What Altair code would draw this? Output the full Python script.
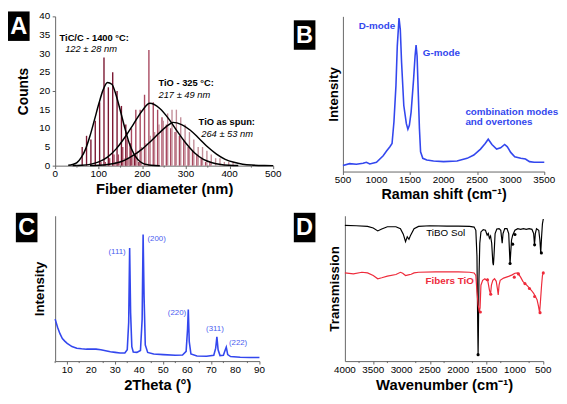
import altair as alt
import pandas as pd

FONT = "Liberation Sans"
BLUE = "#3347ee"
LBLUE = "#4a5cf0"
RED = "#ee2b3b"
AXC = "#666"

# ---------------- Panel A : fiber diameter histograms ----------------
tic_x = [62, 72, 82, 92, 102, 112, 122, 132, 142, 152, 162, 172, 182, 192]
tic_n = [5, 8, 7, 12, 17, 29, 21, 25, 20, 16, 11, 6, 3, 1]
t325_x = [105, 115, 125, 135, 145, 155, 165, 175, 185, 195, 205, 215, 225,
          235, 245, 255, 265, 275, 285, 295, 305, 315, 325, 335, 345, 355]
t325_n = [1, 1, 2, 3, 3, 5, 7, 10, 15, 15, 19, 31, 17,
          15, 13, 11, 10, 9, 8, 7, 5, 4, 3, 2, 1, 1]
spun_x = [138, 148, 158, 168, 178, 188, 198, 208, 218, 228, 238, 248, 258, 268,
          278, 288, 298, 308, 318, 328, 338, 348, 358, 368, 378, 388, 398, 408]
spun_n = [1, 1, 2, 2, 3, 4, 5, 6, 8, 9, 11, 12, 14, 15,
          15, 13, 11, 9, 7, 5, 5, 4, 3, 2, 2, 1, 1, 1]
series_names = ["TiC/C", "TiO 325", "TiO spun"]
series_colors = ["#7a1630", "#a8485f", "#c38e99"]

fit1_x = [30, 40, 50, 60, 70, 80, 90, 100, 110, 120, 130, 140, 150, 160, 170, 180, 190, 200, 210, 220, 240]
fit1_y = [0.1, 0.3, 0.8, 2.2, 4.5, 8, 12.2, 16.5, 20.3, 22.3, 21.8, 18.8, 14.5, 10, 6, 3.3, 1.6, 0.7, 0.3, 0.1, 0]
fit2_x = [40, 60, 80, 100, 120, 140, 160, 180, 200, 217, 240, 260, 280, 300, 320, 340, 360, 380, 400, 420]
fit2_y = [0.02, 0.1, 0.35, 1.0, 2.3, 4.5, 7.6, 11.2, 14.8, 16.7, 15.3, 12.6, 9.2, 6.0, 3.4, 1.7, 0.8, 0.3, 0.1, 0.03]
fit3_x = [80, 100, 120, 140, 160, 180, 200, 220, 240, 260, 270, 290, 310, 330, 350, 370, 390, 410, 430, 450, 480, 500]
fit3_y = [0.03, 0.1, 0.3, 0.7, 1.5, 2.8, 4.5, 6.6, 8.9, 10.9, 11.6, 11.0, 9.5, 7.3, 5.0, 3.1, 1.7, 0.9, 0.4, 0.15, 0.03, 0.01]

a_text = ["TiC/C - 1400 °C:", "122 ± 28 nm", "TiO - 325 °C:", "217 ± 49 nm", "TiO as spun:", "264 ± 53 nm"]
a_text_x = [10, 23, 237, 237, 329, 335]
a_text_y = [34.3, 31.2, 22.2, 19.0, 11.7, 8.6]
a_text_weight = ["bold", "normal", "bold", "normal", "bold", "normal"]
a_major = [0, 100, 200, 300, 400, 500]
a_minor = [50, 150, 250, 350, 450]
a_yticks = [0, 5, 10, 15, 20, 25, 30, 35, 40]

# ---------------- Panel B : Raman ----------------
raman_x = [500, 600, 700, 800, 850, 900, 1000, 1100, 1150, 1200, 1232, 1260, 1290, 1310, 1336, 1355,
           1374, 1407, 1445, 1468, 1490, 1516, 1553, 1575, 1590, 1605, 1624, 1640, 1657, 1690, 1750,
           1850, 2000, 2200, 2350, 2450, 2550, 2620, 2665, 2720, 2790, 2850, 2910, 2950, 3000, 3060,
           3150, 3220, 3280, 3350, 3500]
raman_y = [18, 24, 22, 25, 28, 23, 28, 48, 62, 75, 85, 150, 260, 380, 465, 430,
           330, 200, 145, 128, 140, 180, 280, 350, 383, 350, 230, 130, 60, 40, 35,
           32, 30, 32, 40, 50, 68, 85, 98, 82, 68, 72, 82, 75, 58, 45,
           40, 38, 30, 28, 28]
b_text = ["D-mode", "G-mode", "combination modes", "and overtones"]
b_text_x = [736, 1690, 2325, 2325]
b_text_y = [440, 358, 180, 150]
b_major = [500, 1000, 1500, 2000, 2500, 3000, 3500]

# ---------------- Panel C : XRD ----------------
xrd_x = [5, 6, 7, 8, 9, 10, 12, 14, 16, 18, 20, 22, 24, 26, 28, 30, 32, 34, 35, 35.6, 36, 36.4, 36.9,
         37.5, 39, 40.5, 41.2, 41.6, 42, 42.5, 43.5, 46, 50, 55, 58, 59.5, 60.1, 60.4, 60.8, 61.5, 64,
         68, 71, 71.8, 72.3, 72.8, 73.6, 75, 75.8, 76.2, 76.8, 78, 82, 86, 90]
xrd_y = [130, 105, 85, 70, 62, 55, 45, 40, 38, 37, 37, 37, 35, 32, 29, 27, 25, 25, 35, 120, 350, 150, 45,
         28, 27, 33, 130, 392, 200, 50, 27, 22, 20, 18, 19, 30, 100, 160, 60, 22, 16,
         15, 18, 40, 75, 35, 17, 18, 35, 43, 20, 14, 12, 11, 11]
c_text = ["(111)", "(200)", "(220)", "(311)", "(222)"]
c_text_x = [27.2, 43.4, 51.9, 67.8, 77.3]
c_text_y = [337, 378, 150, 100, 55]
c_major = [10, 20, 30, 40, 50, 60, 70, 80, 90]
c_minor = [5, 15, 25, 35, 45, 55, 65, 75, 85]

# ---------------- Panel D : FTIR ----------------
sol_x = [4000, 3800, 3600, 3500, 3420, 3350, 3250, 3100, 3020, 2970, 2930, 2900, 2870, 2840, 2780, 2700,
         2500, 2200, 2000, 1800, 1720, 1690, 1670, 1655, 1650, 1645, 1635, 1620, 1600, 1560, 1520, 1490,
         1470, 1450, 1430, 1410, 1390, 1380, 1370, 1350, 1320, 1280, 1250, 1225, 1210, 1180, 1140, 1110,
         1095, 1086, 1075, 1060, 1040, 1000, 950, 900, 850, 800, 750, 700, 670, 655, 640, 620, 580, 560,
         545, 530, 515, 500]
sol_y = [420, 419, 417, 412, 403, 409, 416, 416, 410, 393, 370, 385, 377, 390, 410, 417,
         419, 418, 418, 417, 415, 405, 325, 85, 20, 85, 255, 365, 400, 407, 405, 390,
         395, 380, 387, 365, 305, 297, 325, 395, 409, 410, 405, 365, 395, 410, 410, 395,
         335, 300, 335, 375, 390, 405, 410, 408, 410, 408, 410, 408, 395, 360, 395, 410, 405, 375,
         335, 385, 425, 440]
fib_x = [4000, 3850, 3700, 3600, 3500, 3420, 3350, 3250, 3100, 3020, 2980, 2930, 2880, 2830, 2780, 2700,
         2400, 2000, 1800, 1720, 1690, 1670, 1650, 1630, 1615, 1600, 1570, 1530, 1500, 1484, 1470, 1450,
         1430, 1415, 1390, 1360, 1330, 1310, 1295, 1280, 1260, 1200, 1150, 1100, 1050, 1000, 950, 900,
         860, 820, 780, 740, 700, 670, 640, 610, 585, 565, 550, 530, 515, 500]
fib_y = [273, 270, 275, 273, 265, 255, 258, 263, 268, 275, 272, 265, 267, 269, 273, 275,
         276, 276, 275, 273, 265, 215, 175, 153, 165, 235, 250, 255, 250, 253, 240, 220,
         207, 235, 250, 255, 247, 225, 205, 235, 250, 257, 260, 263, 267, 272, 273, 260,
         247, 240, 233, 225, 217, 210, 200, 190, 170, 150, 185, 235, 265, 273]
sol_mark_x = [1650, 1086, 1040, 1000, 653, 534]
sol_mark_y = [20, 302, 362, 392, 360, 335]
fib_mark_x = [1610, 1484, 1427, 1012, 938, 824, 744, 653, 557, 500]
fib_mark_y = [152, 252, 207, 260, 270, 240, 225, 200, 150, 273]
d_major = [500, 1000, 1500, 2000, 2500, 3000, 3500, 4000]
d_minor = [750, 1250, 1750, 2250, 2750, 3250, 3750]


def letter_box(letter, x0, y0, w=22, h=30):
    df = pd.DataFrame({"l": [letter]})
    box = alt.Chart(df).mark_rect(color="black").encode(
        x=alt.value(x0), x2=alt.value(x0 + w), y=alt.value(y0), y2=alt.value(y0 + h))
    txt = alt.Chart(df).mark_text(color="white", font=FONT, fontSize=24, fontWeight="bold").encode(
        x=alt.value(x0 + w / 2), y=alt.value(y0 + h / 2 + 1), text="l:N")
    return [box, txt]


def minor_ticks(field, vals, h):
    return alt.Chart(pd.DataFrame({field: vals})).mark_rule(color=AXC, strokeWidth=1).encode(
        x=f"{field}:Q", y=alt.value(h), y2=alt.value(h + 2))


def x_labels(field, vals, h):
    df = pd.DataFrame({field: vals, "lab": [str(v) for v in vals]})
    return alt.Chart(df).mark_text(font=FONT, fontSize=10, color="black", baseline="top").encode(
        x=f"{field}:Q", y=alt.value(h + 4), text="lab:N")


def y_labels(field, vals):
    df = pd.DataFrame({field: vals, "lab": [str(v) for v in vals]})
    return alt.Chart(df).mark_text(font=FONT, fontSize=10, color="black", align="right",
                                   baseline="middle").encode(
        y=f"{field}:Q", x=alt.value(-5), text="lab:N")


def xaxis(title, values, size=15):
    return alt.Axis(title=title, values=values, labels=False, titleFontSize=size, titlePadding=13)


def yaxis_blank(title, pad=3):
    return alt.Axis(title=title, ticks=False, labels=False, titleFontSize=13.5, titlePadding=pad)


# ---- A
HA = 152
bars_df = pd.concat([
    pd.DataFrame({"d": tic_x, "n": tic_n, "s": series_names[0]}),
    pd.DataFrame({"d": t325_x, "n": t325_n, "s": series_names[1]}),
    pd.DataFrame({"d": spun_x, "n": spun_n, "s": series_names[2]}),
])
fits_df = pd.concat([
    pd.DataFrame({"d": fit1_x, "n": fit1_y, "s": "f1"}),
    pd.DataFrame({"d": fit2_x, "n": fit2_y, "s": "f2"}),
    pd.DataFrame({"d": fit3_x, "n": fit3_y, "s": "f3"}),
])
a_lab_df = pd.DataFrame({"d": a_text_x, "n": a_text_y, "t": a_text, "w": a_text_weight})

bars = alt.Chart(bars_df).mark_rule(strokeWidth=1.4).encode(
    x=alt.X("d:Q", scale=alt.Scale(domain=[0, 500], nice=False),
            axis=xaxis("Fiber diameter (nm)", a_major)),
    y=alt.Y("n:Q", scale=alt.Scale(domain=[0, 40], nice=False),
            axis=alt.Axis(title="Counts", values=a_yticks, labels=False, titleFontSize=14,
                          titlePadding=22)),
    y2=alt.datum(0),
    color=alt.Color("s:N", scale=alt.Scale(domain=series_names, range=series_colors), legend=None))
fits = alt.Chart(fits_df).mark_line(color="black", strokeWidth=1.5, interpolate="monotone").encode(
    x="d:Q", y="n:Q", detail="s:N")
a_bold = alt.Chart(a_lab_df[a_lab_df.w == "bold"]).mark_text(
    align="left", font=FONT, fontSize=9.5, fontWeight="bold", color="black").encode(
    x="d:Q", y="n:Q", text="t:N")
a_ital = alt.Chart(a_lab_df[a_lab_df.w == "normal"]).mark_text(
    align="left", font=FONT, fontSize=9.5, fontStyle="italic", color="black").encode(
    x="d:Q", y="n:Q", text="t:N")
panel_a = alt.layer(bars, fits, a_bold, a_ital, minor_ticks("d", a_minor, HA),
                    x_labels("d", a_major, HA), y_labels("n", a_yticks),
                    *letter_box("A", -48, -5)).properties(width=222, height=HA)

# ---- B
HB = 158
raman_df = pd.DataFrame({"x": raman_x, "y": raman_y})
b_lab_df = pd.DataFrame({"x": b_text_x, "y": b_text_y, "t": b_text})
line_b = alt.Chart(raman_df).mark_line(color=BLUE, strokeWidth=1.6).encode(
    x=alt.X("x:Q", scale=alt.Scale(domain=[500, 3500], nice=False),
            axis=xaxis("Raman shift (cm⁻¹)", b_major, 14.5)),
    y=alt.Y("y:Q", scale=alt.Scale(domain=[0, 470], nice=False), axis=yaxis_blank("Intensity")))
b_lab = alt.Chart(b_lab_df).mark_text(align="left", font=FONT, fontSize=10, fontWeight="bold",
                                      color=BLUE).encode(x="x:Q", y="y:Q", text="t:N")
panel_b = alt.layer(line_b, b_lab, x_labels("x", b_major, HB),
                    *letter_box("B", -50, 4)).properties(width=205, height=HB)

# ---- C
HC = 148
xrd_df = pd.DataFrame({"x": xrd_x, "y": xrd_y})
c_lab_df = pd.DataFrame({"x": c_text_x, "y": c_text_y, "t": c_text})
line_c = alt.Chart(xrd_df).mark_line(color=BLUE, strokeWidth=1.6).encode(
    x=alt.X("x:Q", scale=alt.Scale(domain=[5, 90], nice=False), axis=xaxis("2Theta (°)", c_major)),
    y=alt.Y("y:Q", scale=alt.Scale(domain=[0, 450], nice=False), axis=yaxis_blank("Intensity", 9)))
c_lab = alt.Chart(c_lab_df).mark_text(align="left", font=FONT, fontSize=8, color=LBLUE).encode(
    x="x:Q", y="y:Q", text="t:N")
panel_c = alt.layer(line_c, c_lab, minor_ticks("x", c_minor, HC), x_labels("x", c_major, HC),
                    *letter_box("C", -40, -3)).properties(width=208, height=HC)

# ---- D
HD = 148
sol_df = pd.DataFrame({"x": sol_x, "y": sol_y})
fib_df = pd.DataFrame({"x": fib_x, "y": fib_y})
sol_m = pd.DataFrame({"x": sol_mark_x, "y": sol_mark_y})
fib_m = pd.DataFrame({"x": fib_mark_x, "y": fib_mark_y})
line_sol = alt.Chart(sol_df).mark_line(color="black", strokeWidth=1.2).encode(
    x=alt.X("x:Q", scale=alt.Scale(domain=[500, 4000], reverse=True, nice=False),
            axis=xaxis("Wavenumber (cm⁻¹)", d_major)),
    y=alt.Y("y:Q", scale=alt.Scale(domain=[0, 450], nice=False), axis=yaxis_blank("Transmission", 4)))
line_fib = alt.Chart(fib_df).mark_line(color=RED, strokeWidth=1.2).encode(x="x:Q", y="y:Q")
pt_sol = alt.Chart(sol_m).mark_point(shape="circle", filled=True, size=10, color="black",
                                     opacity=1).encode(x="x:Q", y="y:Q")
pt_fib = alt.Chart(fib_m).mark_point(shape="circle", filled=True, size=10, color=RED,
                                     opacity=1).encode(x="x:Q", y="y:Q")
d_lab1 = alt.Chart(pd.DataFrame({"x": [2566], "y": [397], "t": ["TiBO Sol"]})).mark_text(
    align="left", font=FONT, fontSize=10, color="black").encode(x="x:Q", y="y:Q", text="t:N")
d_lab2 = alt.Chart(pd.DataFrame({"x": [2577], "y": [247], "t": ["Fibers TiO"]})).mark_text(
    align="left", font=FONT, fontSize=10, fontWeight="bold", color=RED).encode(x="x:Q", y="y:Q", text="t:N")
panel_d = alt.layer(line_sol, line_fib, pt_sol, pt_fib, d_lab1, d_lab2, minor_ticks("x", d_minor, HD),
                    x_labels("x", d_major, HD),
                    *letter_box("D", -52, -3)).properties(width=202, height=HD)

top = alt.hconcat(panel_a, panel_b, spacing=12)
bottom = alt.hconcat(panel_c, panel_d, spacing=29)
chart = alt.vconcat(top, bottom, spacing=12).properties(padding=0).configure_view(
    strokeWidth=0).configure_axis(
    labelFont=FONT, titleFont=FONT, labelFontSize=10, titleFontWeight="bold", grid=False,
    domainColor=AXC, tickColor=AXC, labelColor="black", titleColor="black", tickSize=3)

chart.save("out.html", embed_options={"renderer": "svg", "actions": False})
